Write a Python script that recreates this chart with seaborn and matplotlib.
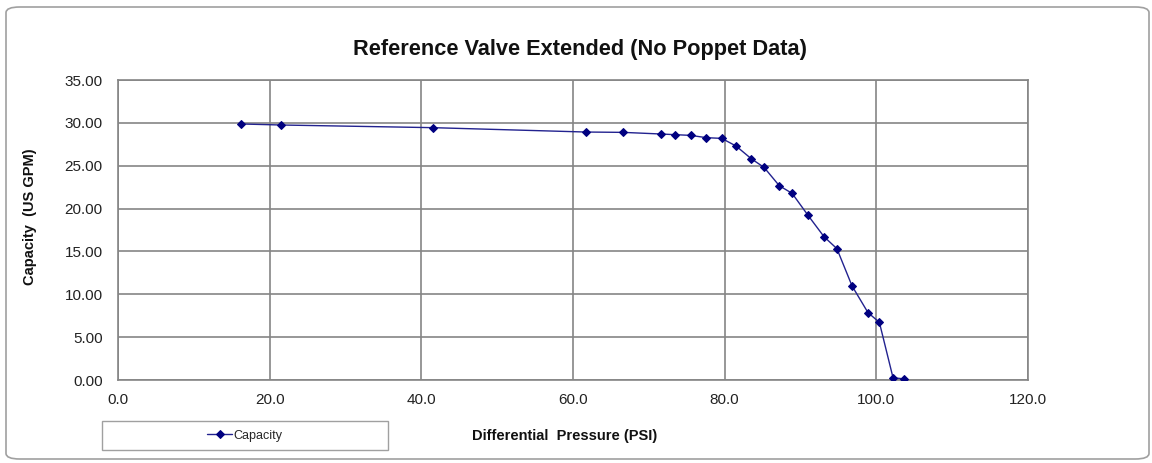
import matplotlib
matplotlib.use("Agg")
import matplotlib.pyplot as plt
import seaborn as sns
import pandas as pd
from matplotlib.patches import FancyBboxPatch, Rectangle
from matplotlib.ticker import MultipleLocator, FormatStrFormatter

# ---- data ----
pressure = [16.2, 21.5, 41.5, 61.7, 66.6, 71.6, 73.5, 75.5, 77.6, 79.6,
            81.5, 83.5, 85.2, 87.2, 88.9, 91.0, 93.1, 94.8, 96.8, 98.9,
            100.4, 102.2, 103.7]
capacity = [29.87, 29.75, 29.44, 28.93, 28.89, 28.70, 28.62, 28.54, 28.27, 28.19,
            27.30, 25.82, 24.80, 22.67, 21.77, 19.20, 16.72, 15.32, 10.97, 7.86,
            6.73, 0.27, 0.12]
series_name = "Capacity"
title = "Reference Valve Extended (No Poppet Data)"
x_label = "Differential  Pressure (PSI)"
y_label = "Capacity  (US GPM)"

df = pd.DataFrame({"x": pressure, "y": capacity, "s": series_name})

sns.set_style("white")
plt.rcParams["font.family"] = ["Liberation Sans", "DejaVu Sans"]

W, H = 1152, 463
fig = plt.figure(figsize=(W / 100, H / 100), dpi=100)
ax = fig.add_axes([118 / W, 1 - 380 / H, (1028 - 118) / W, (380 - 80) / H])

# outer rounded border
border = FancyBboxPatch((6 / W, 4 / H), (1149 - 6) / W, (458 - 6) / H,
                        boxstyle="round,pad=0,rounding_size=0.012",
                        transform=fig.transFigure, fill=False,
                        edgecolor="#a0a0a0", linewidth=1.2, zorder=0)
fig.patches.append(border)

line_color = "#22228f"
sns.lineplot(data=df, x="x", y="y", ax=ax, color=line_color, linewidth=1.0,
             marker="D", markersize=4.5, markeredgecolor="#000080",
             markerfacecolor="#000080", legend=False, zorder=3)

ax.set_xlim(0, 120)
ax.set_ylim(0, 35)
ax.xaxis.set_major_locator(MultipleLocator(20))
ax.xaxis.set_minor_locator(MultipleLocator(4))
ax.yaxis.set_major_locator(MultipleLocator(5))
ax.yaxis.set_minor_locator(MultipleLocator(1))
ax.xaxis.set_major_formatter(FormatStrFormatter("%.1f"))
ax.yaxis.set_major_formatter(FormatStrFormatter("%.2f"))

ax.grid(True, which="major", color="#858585", linewidth=1.2)
ax.set_axisbelow(True)
for sp in ax.spines.values():
    sp.set_color("#858585")
    sp.set_linewidth(1.2)
    sp.set_visible(True)

ax.tick_params(axis="both", which="major", direction="out", length=4,
               color="#858585", labelsize=11, labelcolor="#222222")
ax.tick_params(axis="both", which="minor", direction="in", length=3,
               color="#858585")
ax.tick_params(axis="y", which="major", pad=7)
ax.tick_params(axis="x", which="major", pad=5)

ax.set_xlabel("")
ax.set_ylabel("")

fig.text(580 / W, 1 - 50 / H, title, ha="center", va="center",
         fontsize=15.7, fontweight="bold", color="#111111")
fig.text(565 / W, 1 - 436 / H, x_label, ha="center", va="center",
         fontsize=10.5, fontweight="bold", color="#111111")
fig.text(30 / W, 1 - 217 / H, y_label, ha="center", va="center",
         rotation=90, fontsize=10.5, fontweight="bold", color="#111111")

# legend box
fig.patches.append(Rectangle((102 / W, 1 - 450 / H), (388 - 102) / W, 29 / H,
                             transform=fig.transFigure, fill=False,
                             edgecolor="#a0a0a0", linewidth=1.0))
handles = ax.get_lines()[:1]
leg = fig.legend(handles, [series_name], loc="center",
                 bbox_to_anchor=(245 / W, 1 - 435.5 / H), frameon=False,
                 fontsize=9, handlelength=2.0, handletextpad=0.1,
                 borderpad=0)

fig.savefig("out.png", dpi=100)
